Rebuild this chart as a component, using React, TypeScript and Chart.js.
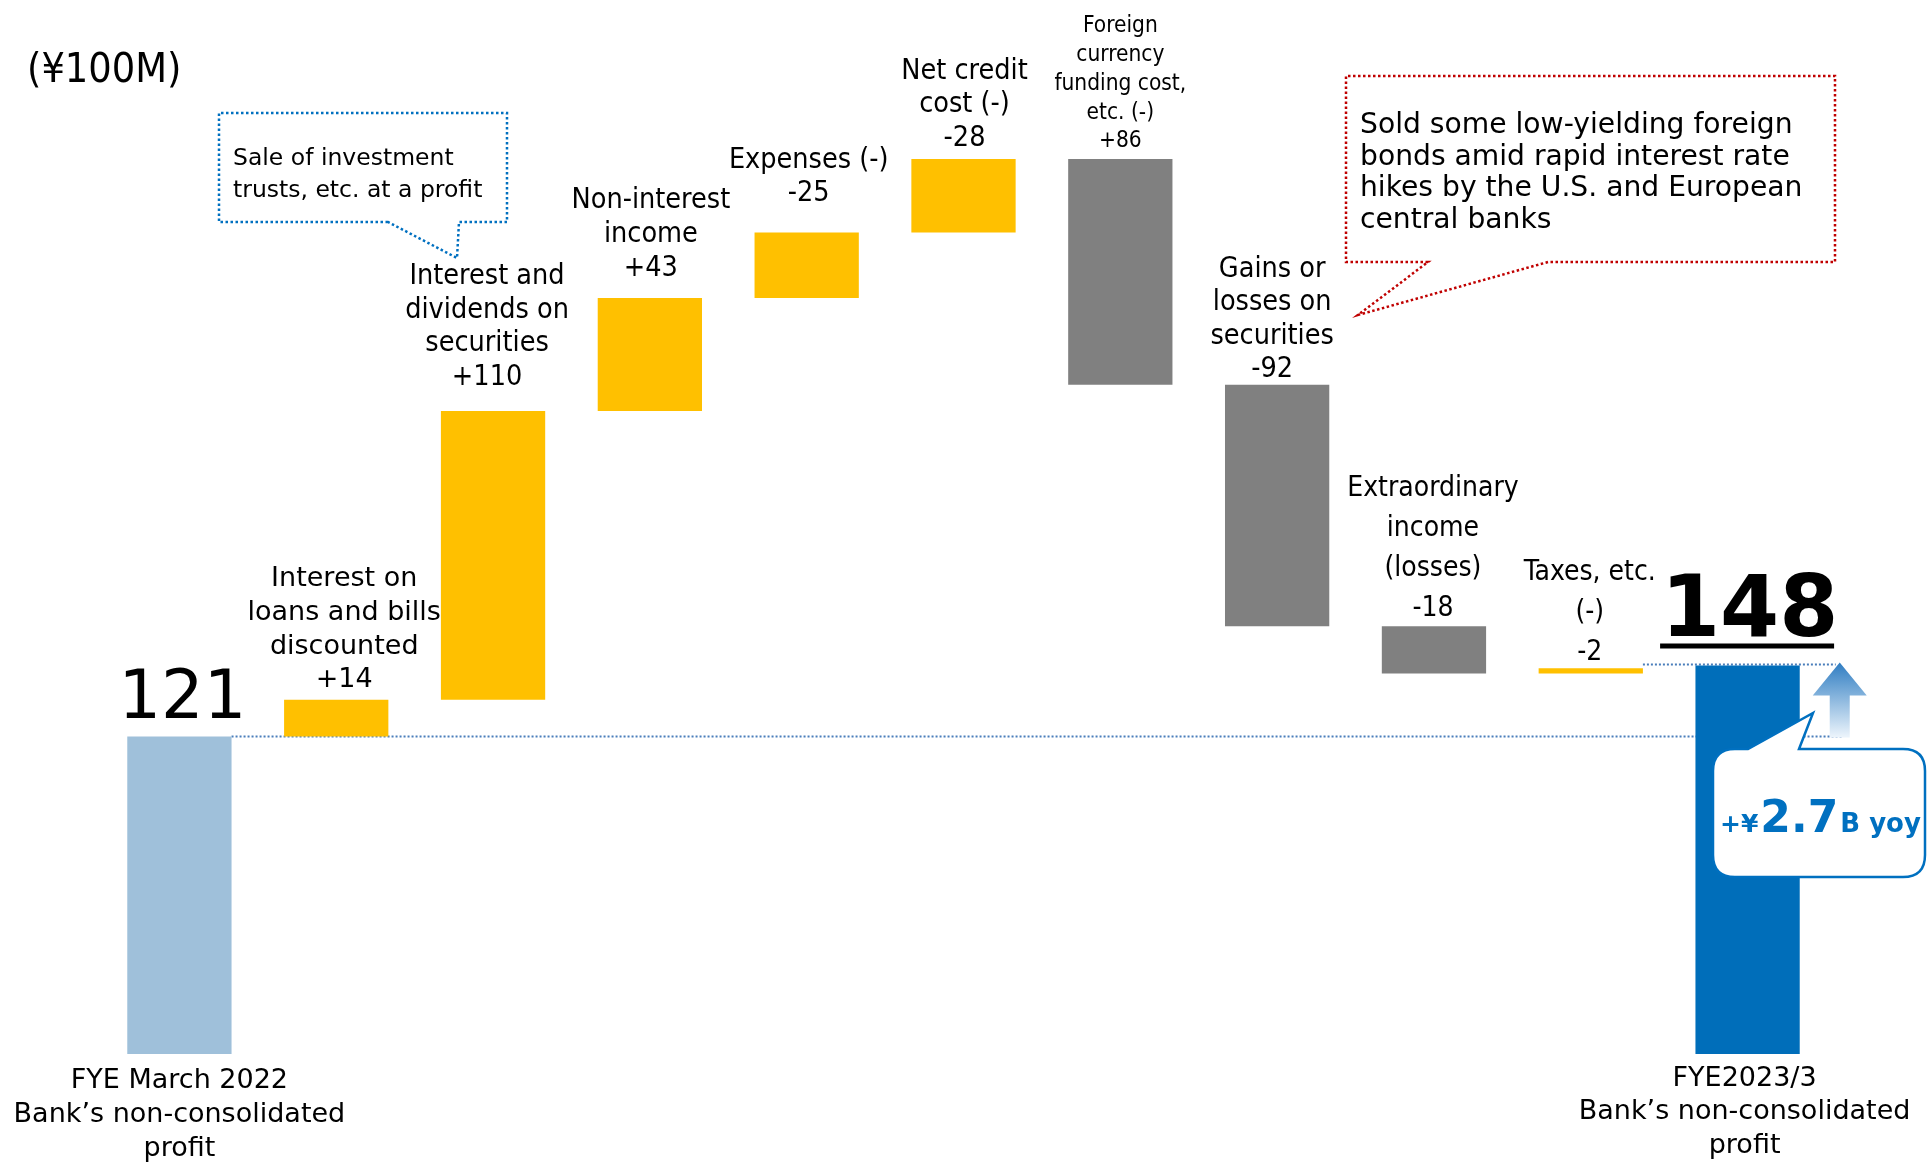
import React, { useEffect, useRef } from 'react';
import { Chart, registerables } from 'chart.js';
Chart.register(...registerables);

// ---------- data ----------
const unitLabel = '(¥100M)';
const startValue = 121;
const endValue = 148;
const startLabel = ['FYE March 2022', 'Bank’s non-consolidated', 'profit'];
const endLabel = ['FYE2023/3', 'Bank’s non-consolidated', 'profit'];
const itemNames = [
  ['Interest on', 'loans and bills', 'discounted'],
  ['Interest and', 'dividends on', 'securities'],
  ['Non-interest', 'income'],
  ['Expenses (-)'],
  ['Net credit', 'cost (-)'],
  ['Foreign', 'currency', 'funding cost,', 'etc. (-)'],
  ['Gains or', 'losses on', 'securities'],
  ['Extraordinary', 'income', '(losses)'],
  ['Taxes, etc.', '(-)'],
];
const changeLabels = ['+14', '+110', '+43', '-25', '-28', '+86', '-92', '-18', '-2'];
// effect of each item on profit (¥100M)
const profitImpact = [14, 110, 43, 25, 28, -86, -92, -18, 2];
const yoyParts = ['+¥', '2.7', 'B yoy'];
const noteLeft = ['Sale of investment', 'trusts, etc. at a profit'];
const noteRight = [
  'Sold some low-yielding foreign',
  'bonds amid rapid interest rate',
  'hikes by the U.S. and European',
  'central banks',
];

// ---------- styles ----------
const COL_START = '#9FC0DA';
const COL_UP = '#FFC000';
const COL_GREY = '#808080';
const COL_END = '#006EBA';
const itemColors = [COL_UP, COL_UP, COL_UP, COL_UP, COL_UP, COL_GREY, COL_GREY, COL_GREY, COL_UP];
const REG = "'DejaVu Sans', Verdana, sans-serif";
const COND = "'DejaVu Sans Condensed', 'DejaVu Sans', sans-serif";
const itemFonts = [
  `27px ${REG}`,
  `28.5px ${COND}`,
  `28.5px ${COND}`,
  `28.5px ${COND}`,
  `28.5px ${COND}`,
  `22.5px ${COND}`,
  `28.5px ${COND}`,
  `28px ${COND}`,
  `28px ${COND}`,
];
const itemLineHeights = [33.6, 33.6, 33.6, 33.6, 33.6, 28.7, 33.6, 40, 40];
const itemGaps = [19.5, 33.3, 29.8, 38.5, 20.3, 17.5, 14.7, 17, 15.3];
const itemDx = [8, -6, 1, 2, 1, 0, -5, -1, -1];

// ---------- derived table ----------
const categories = ['start', ...itemNames.map((n) => n.join(' ')), 'end'];
const bars: [number, number][] = [[0, startValue]];
let running = startValue;
profitImpact.forEach((d) => {
  const next = running + d;
  bars.push([Math.min(running, next), Math.max(running, next)]);
  running = next;
});
bars.push([0, endValue]);
const barColors = [COL_START, ...itemColors, COL_END];

function drawLines(ctx: CanvasRenderingContext2D, arr: string[], cx: number, lastY: number, lh: number, font: string) {
  ctx.font = font;
  ctx.textAlign = 'center';
  ctx.textBaseline = 'middle';
  arr.forEach((t, k) => ctx.fillText(t, cx, lastY - (arr.length - 1 - k) * lh));
}

const overlay = {
  id: 'overlay',
  beforeDatasetsDraw(chart: any) {
    const ctx: CanvasRenderingContext2D = chart.ctx;
    const xs = chart.scales.x;
    const ys = chart.scales.y;
    const meta = chart.getDatasetMeta(0);
    const hw = meta.data[0].width / 2;
    const last = categories.length - 1;
    ctx.save();
    ctx.strokeStyle = '#4A7EBB';
    ctx.lineWidth = 2;
    ctx.setLineDash([2, 2]);
    const yS = Math.round(ys.getPixelForValue(startValue)) + 0.5;
    ctx.beginPath();
    ctx.moveTo(xs.getPixelForValue(0) + hw, yS);
    ctx.lineTo(xs.getPixelForValue(last) + hw + 42, yS);
    ctx.stroke();
    const yE = Math.round(ys.getPixelForValue(endValue)) - 1.5;
    ctx.beginPath();
    ctx.moveTo(xs.getPixelForValue(last - 1) + hw, yE);
    ctx.lineTo(xs.getPixelForValue(last) + hw + 36, yE);
    ctx.stroke();
    ctx.restore();
  },
  afterDatasetsDraw(chart: any) {
    const ctx: CanvasRenderingContext2D = chart.ctx;
    const xs = chart.scales.x;
    const ys = chart.scales.y;
    const meta = chart.getDatasetMeta(0);
    const hw = meta.data[0].width / 2;
    const last = categories.length - 1;
    ctx.save();
    ctx.fillStyle = '#000';

    // unit
    ctx.font = `41px ${COND}`;
    ctx.textAlign = 'left';
    ctx.textBaseline = 'middle';
    ctx.fillText(unitLabel, 27, 71);

    // item labels
    itemNames.forEach((names, i) => {
      const idx = i + 1;
      const top = ys.getPixelForValue(bars[idx][1]);
      drawLines(
        ctx,
        [...names, changeLabels[i]],
        xs.getPixelForValue(idx) + itemDx[i],
        top - itemGaps[i],
        itemLineHeights[i],
        itemFonts[i]
      );
    });

    // bottom labels
    const bottom = ys.getPixelForValue(0);
    ctx.fillStyle = '#000';
    ctx.font = `27px ${REG}`;
    ctx.textAlign = 'center';
    ctx.textBaseline = 'middle';
    startLabel.forEach((t, k) => {
      ctx.fillText(t, xs.getPixelForValue(0), bottom + 27 + k * 33.8);
    });
    endLabel.forEach((t, k) => {
      ctx.fillText(t, xs.getPixelForValue(last) - 3, bottom + 24.5 + k * 33.8);
    });

    // start / end totals
    ctx.textBaseline = 'alphabetic';
    ctx.textAlign = 'center';
    ctx.font = `67px ${REG}`;
    ctx.fillText(String(startValue), xs.getPixelForValue(0) + 3, ys.getPixelForValue(startValue) - 18);
    const ex = xs.getPixelForValue(last);
    const eTop = ys.getPixelForValue(endValue);
    ctx.font = `bold 85px ${REG}`;
    ctx.fillText(String(endValue), ex + 2, eTop - 30);
    ctx.fillRect(ex - 87.5, eTop - 22, 174, 5);

    // left dotted callout
    ctx.save();
    ctx.strokeStyle = '#0070C0';
    ctx.lineWidth = 2.5;
    ctx.setLineDash([2.5, 2.5]);
    ctx.beginPath();
    ctx.moveTo(388, 222);
    ctx.lineTo(219, 222);
    ctx.lineTo(219, 113);
    ctx.lineTo(507, 113);
    ctx.lineTo(507, 222);
    ctx.lineTo(459, 222);
    ctx.lineTo(457, 258);
    ctx.closePath();
    ctx.stroke();
    ctx.restore();
    ctx.font = `23.5px ${REG}`;
    ctx.textAlign = 'left';
    ctx.textBaseline = 'alphabetic';
    ctx.fillStyle = '#000';
    noteLeft.forEach((t, k) => ctx.fillText(t, 233, 165 + k * 32));

    // right dotted callout
    ctx.save();
    ctx.strokeStyle = '#C00000';
    ctx.lineWidth = 2.5;
    ctx.setLineDash([2.5, 2.5]);
    ctx.beginPath();
    ctx.moveTo(1428, 262);
    ctx.lineTo(1346, 262);
    ctx.lineTo(1346, 76);
    ctx.lineTo(1835, 76);
    ctx.lineTo(1835, 262);
    ctx.lineTo(1548, 262);
    ctx.lineTo(1358, 315);
    ctx.closePath();
    ctx.stroke();
    ctx.restore();
    ctx.font = `28.2px ${REG}`;
    ctx.fillStyle = '#000';
    noteRight.forEach((t, k) => ctx.fillText(t, 1360, 133 + k * 31.7));

    // arrow
    const ax = ex + hw + 40;
    const aTip = eTop - 3;
    const aBase = ys.getPixelForValue(startValue);
    const grad = ctx.createLinearGradient(0, aTip, 0, aBase);
    grad.addColorStop(0, '#2F7DC2');
    grad.addColorStop(1, '#EAF3FB');
    ctx.fillStyle = grad;
    ctx.beginPath();
    ctx.moveTo(ax, aTip);
    ctx.lineTo(ax + 27, aTip + 33);
    ctx.lineTo(ax + 10, aTip + 33);
    ctx.lineTo(ax + 10, aBase + 1);
    ctx.lineTo(ax - 10, aBase + 1);
    ctx.lineTo(ax - 10, aTip + 33);
    ctx.lineTo(ax - 27, aTip + 33);
    ctx.closePath();
    ctx.fill();

    // yoy bubble
    const L = 1713, R = 1925, T = 749, B = 877, r = 22;
    ctx.beginPath();
    ctx.moveTo(L + r, T);
    ctx.lineTo(1748, T);
    ctx.lineTo(1813, 713);
    ctx.lineTo(1799, T);
    ctx.lineTo(R - r, T);
    ctx.quadraticCurveTo(R, T, R, T + r);
    ctx.lineTo(R, B - r);
    ctx.quadraticCurveTo(R, B, R - r, B);
    ctx.lineTo(L + r, B);
    ctx.quadraticCurveTo(L, B, L, B - r);
    ctx.lineTo(L, T + r);
    ctx.quadraticCurveTo(L, T, L + r, T);
    ctx.closePath();
    ctx.fillStyle = '#fff';
    ctx.fill();
    ctx.strokeStyle = '#0070C0';
    ctx.lineWidth = 2.5;
    ctx.stroke();

    ctx.fillStyle = '#0070C0';
    ctx.textAlign = 'left';
    ctx.textBaseline = 'alphabetic';
    const sizes = [25, 44, 26];
    let tx = 1720;
    yoyParts.forEach((p, k) => {
      ctx.font = `bold ${sizes[k]}px ${REG}`;
      ctx.fillText(p, tx, 832);
      tx += ctx.measureText(p).width + (k === 0 ? 2 : 2);
    });
    ctx.restore();
  },
};

export default function App() {
  const ref = useRef<HTMLCanvasElement | null>(null);
  useEffect(() => {
    if (!ref.current) return;
    const chart = new Chart(ref.current, {
      type: 'bar',
      data: {
        labels: categories,
        datasets: [
          {
            data: bars as any,
            backgroundColor: barColors,
            borderWidth: 0,
            categoryPercentage: 1,
            barPercentage: 0.665,
          },
        ],
      },
      options: {
        responsive: false,
        animation: false,
        devicePixelRatio: 1,
        layout: { padding: { left: 101, right: 103, top: 56.5, bottom: 108 } },
        plugins: { legend: { display: false }, tooltip: { enabled: false } },
        scales: {
          x: { display: false },
          y: { display: false, min: 0, max: 380 },
        },
      },
      plugins: [overlay],
    });
    return () => chart.destroy();
  }, []);
  return (
    <div style={{ position: 'fixed', left: 0, top: 0, width: 1929, height: 1162, background: '#fff' }}>
      <canvas ref={ref} width={1929} height={1162} style={{ display: 'block' }} />
    </div>
  );
}
